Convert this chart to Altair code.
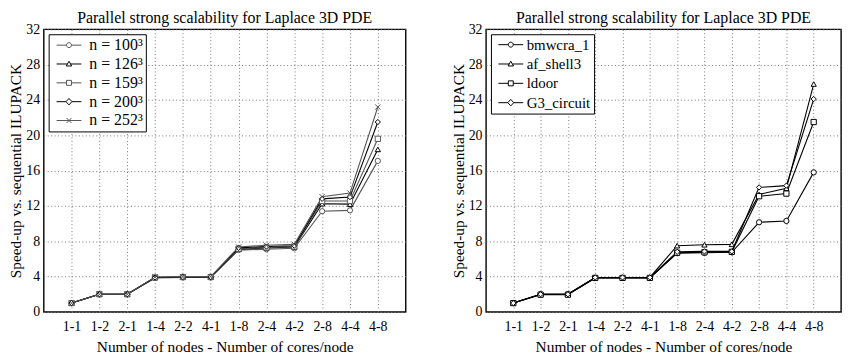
import altair as alt
import pandas as pd

cats = ["1-1", "1-2", "2-1", "1-4", "2-2", "4-1", "1-8", "2-4", "4-2", "2-8", "4-4", "4-8"]
y_ticks = [0, 4, 8, 12, 16, 20, 24, 28, 32]

left_names = ["n = 100³", "n = 126³", "n = 159³", "n = 200³", "n = 252³"]
n100 = [1.0, 2.0, 2.0, 3.85, 3.9, 3.9, 7.0, 7.1, 7.2, 11.4, 11.5, 17.1]
n126 = [1.0, 2.0, 2.0, 3.9, 3.95, 3.95, 7.1, 7.25, 7.35, 12.25, 12.2, 18.4]
n159 = [1.0, 2.0, 2.0, 3.9, 3.95, 3.95, 7.15, 7.3, 7.4, 12.55, 12.55, 19.6]
n200 = [1.0, 2.0, 2.0, 3.9, 3.95, 3.95, 7.25, 7.4, 7.5, 12.8, 13.0, 21.5]
n252 = [1.0, 2.0, 2.0, 3.95, 4.0, 4.0, 7.35, 7.55, 7.65, 13.05, 13.45, 23.2]

right_names = ["bmwcra_1", "af_shell3", "ldoor", "G3_circuit"]
bmwcra = [1.0, 2.0, 2.0, 3.85, 3.85, 3.85, 6.65, 6.7, 6.75, 10.15, 10.3, 15.8]
afshell = [1.0, 2.0, 2.0, 3.9, 3.9, 3.9, 7.5, 7.6, 7.65, 13.3, 14.0, 25.8]
ldoor = [1.0, 1.95, 1.95, 3.85, 3.85, 3.85, 6.7, 6.75, 6.8, 13.1, 13.4, 21.5]
g3 = [1.0, 2.0, 2.0, 3.9, 3.9, 3.9, 6.8, 6.85, 6.85, 14.1, 14.3, 24.1]

TITLE = "Parallel strong scalability for Laplace 3D PDE"
XTITLE = "Number of nodes - Number of cores/node"
YTITLE = "Speed-up vs. sequential ILUPACK"
FONT = "Liberation Serif"

X_PATH = "M-1,-1L1,1M-1,1L1,-1"
# legend glyphs: line segment with the marker in the middle
LEG = {
    "circle": "M-1.2,0H2.8M4.8,0H8.8M4.8,0A1,1,0,1,1,2.8,0A1,1,0,1,1,4.8,0Z",
    "triangle": "M-1.2,0H3.16M4.44,0H8.8M3.8,-1.1L4.9,0.8L2.7,0.8Z",
    "square": "M-1.2,0H2.8M4.8,0H8.8M2.8,-1H4.8V1H2.8Z",
    "diamond": "M-1.2,0H2.6M5,0H8.8M3.8,-1.3L5,0L3.8,1.3L2.6,0Z",
    "x": "M-1.2,0H8.8M2.8,-1L4.8,1M2.8,1L4.8,-1",
}


def to_long(names, series):
    rows = []
    for name, vals in zip(names, series):
        for c, v in zip(cats, vals):
            rows.append({"config": c, "series": name, "speedup": v})
    return pd.DataFrame(rows)


def panel(df, names, colors, shapes, leg_shapes, width, label_size, label_offset, row_pad):
    base = alt.Chart(df)
    x = alt.X("config:O", sort=cats, scale=alt.Scale(type="point", padding=1),
              axis=alt.Axis(title=XTITLE, labelAngle=0, ticks=False, domain=False,
                            grid=True, labelPadding=8, titlePadding=6))
    y = alt.Y("speedup:Q", scale=alt.Scale(domain=[0, 32], nice=False),
              axis=alt.Axis(values=y_ticks, title=YTITLE, ticks=False, domain=False,
                            grid=True, labelPadding=4, titlePadding=2))
    cscale = alt.Scale(domain=names, range=colors)
    lines = base.mark_line(strokeWidth=1.1).encode(
        x=x, y=y, color=alt.Color("series:N", scale=cscale, legend=None))
    pts = base.mark_point(filled=False, fill="white", size=28, strokeWidth=1, opacity=1).encode(
        x=x, y=y,
        color=alt.Color("series:N", scale=cscale, legend=None),
        shape=alt.Shape("series:N", scale=alt.Scale(domain=names, range=shapes), legend=None))
    leg_def = alt.Legend(title=None, orient="top-left", offset=5, padding=3,
                         strokeColor="black", fillColor="white",
                         labelFont=FONT, labelFontSize=label_size, labelColor="black",
                         labelOffset=label_offset, labelLimit=300, rowPadding=row_pad,
                         symbolSize=25, symbolStrokeWidth=1, symbolOpacity=1,
                         symbolFillColor="white")
    leg = base.mark_point(filled=False, fill="white", size=25, opacity=0).encode(
        x=x, y=y,
        color=alt.Color("series:N", scale=cscale, legend=leg_def),
        shape=alt.Shape("series:N", scale=alt.Scale(domain=names, range=leg_shapes), legend=leg_def))
    return alt.layer(lines, pts, leg).resolve_scale(color="independent", shape="independent").properties(
        width=width, height=285,
        title=alt.TitleParams(TITLE, font=FONT, fontSize=16, fontWeight="normal", color="black", offset=-4))


left_df = to_long(left_names, [n100, n126, n159, n200, n252])
right_df = to_long(right_names, [bmwcra, afshell, ldoor, g3])

left = panel(left_df, left_names, ["#555555", "#000000", "#555555", "#000000", "#555555"],
             ["circle", "triangle-up", "square", "diamond", X_PATH],
             [LEG["circle"], LEG["triangle"], LEG["square"], LEG["diamond"], LEG["x"]],
             365, 16, 22, 3)
right = panel(right_df, right_names, ["#000000", "#000000", "#000000", "#000000"],
              ["circle", "triangle-up", "square", "diamond"],
              [LEG["circle"], LEG["triangle"], LEG["square"], LEG["diamond"]],
              358, 15, 18, 3.5)

chart = alt.hconcat(left, right, spacing=44).properties(
    padding={"left": 0, "top": 0, "right": 0, "bottom": 0}
).configure(font=FONT).configure_view(
    stroke="black", strokeWidth=1.4
).configure_axis(
    labelFont=FONT, titleFont=FONT, labelFontSize=14, titleFontSize=15.5,
    labelColor="black", titleColor="black", titleFontWeight="normal",
    gridColor="#777777", gridDash=[1, 2.5], gridWidth=1
)

chart.save("out.html", embed_options={"renderer": "svg", "actions": False})
